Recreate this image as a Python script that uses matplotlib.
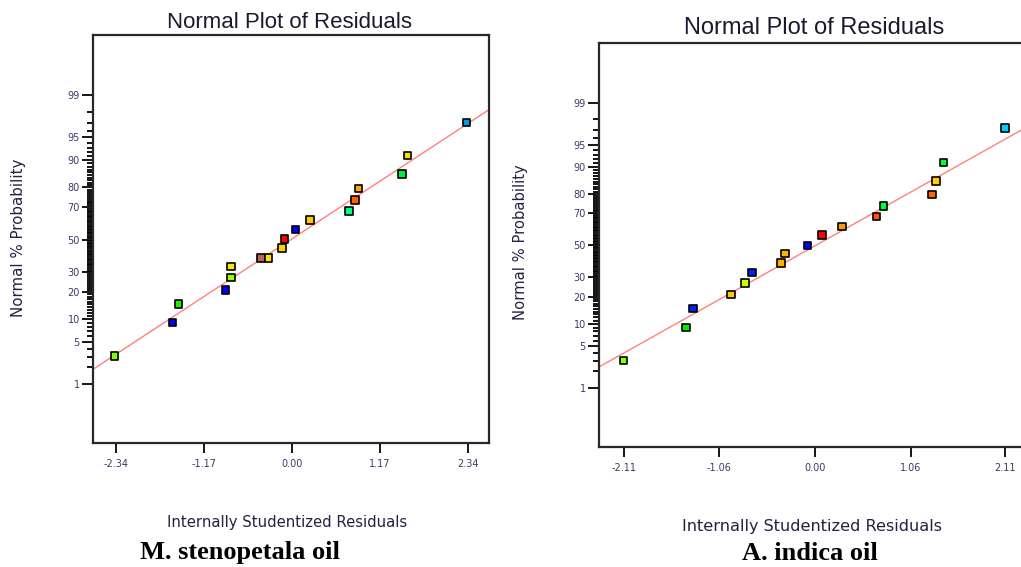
import math
from statistics import NormalDist
import numpy as np
import matplotlib
matplotlib.use("Agg")
import matplotlib.pyplot as plt

# ---------------- data ----------------
title_text = "Normal Plot of Residuals"
xlabel_text = "Internally Studentized Residuals"
ylabel_text = "Normal % Probability"
captions = ["M. stenopetala oil", "A. indica oil"]

prob_major = [1, 5, 10, 20, 30, 50, 70, 80, 90, 95, 99]
prob_minor = list(range(1, 100))

# M. stenopetala oil
ms_xticks = [-2.34, -1.17, 0.00, 1.17, 2.34]
ms_xlim = [-2.64, 2.62]
ms_ylim = [0.054, 99.95]
ms_resid = [-2.354, -1.582, -1.503, -0.878, -0.807, -0.807, -0.412, -0.311, -0.129,
            -0.098, 0.048, 0.239, 0.762, 0.838, 0.886, 1.467, 1.537, 2.322]
ms_prob = [3.1, 9.1, 15.1, 20.9, 27.1, 33.2, 38.6, 38.6, 44.7,
           50.6, 56.4, 62.4, 67.9, 73.7, 79.4, 85.5, 91.2, 97.0]
ms_colors = ['#80ff00', '#0000ff', '#22ee00', '#0000ff', '#99ff00', '#ffe600',
             '#c0605a', '#ffe000', '#ffd000', '#ff0000', '#0000ff', '#ffcc00',
             '#00ff80', '#ff6000', '#ffaa00', '#00ee40', '#ffdd00', '#0099ee']
ms_line_x = [-2.64, 2.62]
ms_line_p = [1.86, 98.17]

# A. indica oil
ai_xticks = [-2.11, -1.06, 0.00, 1.06, 2.11]
ai_xlim = [-2.387, 2.37]
ai_ylim = [0.050, 99.952]
ai_resid = [-2.118, -1.425, -1.348, -0.925, -0.773, -0.693, -0.372, -0.331, -0.081,
            0.077, 0.298, 0.681, 0.762, 1.300, 1.341, 1.422, 2.107]
ai_prob = [3.0, 9.0, 15.1, 21.2, 26.8, 32.8, 38.7, 44.6, 50.0,
           56.7, 62.2, 68.2, 73.9, 79.7, 85.4, 91.2, 97.2]
ai_colors = ['#88ff00', '#00ee00', '#0022ff', '#ffc800', '#ccff00', '#0022ff',
             '#ffb000', '#ffb400', '#0000ff', '#ff0000', '#ff9900', '#ff5500',
             '#00ff40', '#ff6600', '#ffd000', '#00ff30', '#00ccff']
ai_line_x = [-2.387, 2.37]
ai_line_p = [2.36, 97.45]

# ---------------- probability scale ----------------
_nd = NormalDist()


def p_to_z(p):
    p = np.asarray(p, dtype=float)
    q = np.clip(p / 100.0, 1e-12, 1 - 1e-12)
    flat = [(_nd.inv_cdf(v) if np.isfinite(v) else np.nan) for v in np.ravel(q)]
    return np.array(flat, dtype=float).reshape(q.shape)


def z_to_p(z):
    z = np.asarray(z, dtype=float)
    flat = [(50.0 * (1.0 + math.erf(v / math.sqrt(2.0))) if np.isfinite(v) else np.nan)
            for v in np.ravel(z)]
    return np.array(flat, dtype=float).reshape(z.shape)


W, H = 1021, 567
fig = plt.figure(figsize=(W / 100, H / 100), dpi=100)
fig.patch.set_facecolor('white')

tick_col = '#3a3a6a'
label_col = '#222244'


def px_axes(x0, y0, x1, y1):
    return fig.add_axes([x0 / W, 1 - y1 / H, (x1 - x0) / W, (y1 - y0) / H])


def draw_panel(ax, resid, prob, colors, xticks, xlim, ylim, line_x, line_p):
    ax.set_yscale('function', functions=(p_to_z, z_to_p))
    ax.plot(line_x, line_p, color='#ff8080', lw=1.0, zorder=2)
    ax.scatter(resid, prob, marker='s', s=30, c=colors, edgecolors='black',
               linewidths=1.2, zorder=3)
    ax.set_xlim(xlim)
    ax.set_ylim(ylim)
    ax.set_yticks(prob_major)
    ax.set_yticklabels([str(v) for v in prob_major])
    ax.set_yticks(prob_minor, minor=True)
    ax.set_xticks(xticks)
    ax.set_xticklabels([f"{v:.2f}" for v in xticks])
    ax.tick_params(axis='y', which='major', length=8, width=1.4, pad=1.5,
                   labelsize=7, labelcolor=tick_col, color='#151515')
    ax.tick_params(axis='y', which='minor', length=4.5, width=1.3, color='black')
    ax.tick_params(axis='x', which='major', length=7, width=1.4, pad=4.5,
                   labelsize=7, labelcolor=tick_col, color='#151515')
    ax.tick_params(axis='x', which='minor', length=0)
    for sp in ax.spines.values():
        sp.set_linewidth(1.6)
        sp.set_color('#282828')


ax1 = px_axes(93, 35, 489, 443)
draw_panel(ax1, ms_resid, ms_prob, ms_colors, ms_xticks, ms_xlim, ms_ylim,
           ms_line_x, ms_line_p)

ax2 = px_axes(599, 43, 1029, 447)
draw_panel(ax2, ai_resid, ai_prob, ai_colors, ai_xticks, ai_xlim, ai_ylim,
           ai_line_x, ai_line_p)


def ftext(x, y, s, **kw):
    fig.text(x / W, 1 - y / H, s, ha='center', va='center', **kw)


ftext(289, 22, title_text, fontsize=16, family='Liberation Sans', color='#1a1a2e')
ftext(814, 28, title_text, fontsize=17, family='Liberation Sans', color='#1a1a2e')
ftext(287, 523, xlabel_text, fontsize=10.7, family='DejaVu Sans', color=label_col)
ftext(812, 527, xlabel_text, fontsize=11.6, family='DejaVu Sans', color=label_col)
ftext(18.5, 238, ylabel_text, fontsize=10.8, family='DejaVu Sans', color=label_col,
      rotation=90)
ftext(520.5, 242.5, ylabel_text, fontsize=10.6, family='DejaVu Sans', color=label_col,
      rotation=90)
ftext(240, 553, captions[0], fontsize=19, family='Liberation Serif',
      fontweight='bold', color='black')
ftext(810, 553, captions[1], fontsize=19, family='Liberation Serif',
      fontweight='bold', color='black')

fig.savefig('out.png', dpi=100, facecolor='white')
